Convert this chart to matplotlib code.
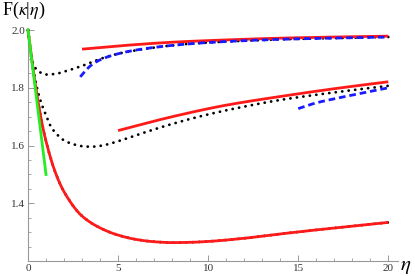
import matplotlib
matplotlib.use("Agg")
import matplotlib.pyplot as plt
import numpy as np

# exact curves (black dotted), one per kappa
eta_top = [0, 0.2, 0.5, 1.0, 1.5, 2, 3, 4, 5, 6, 8, 10, 12, 14, 16, 18, 20]
F_top = [2.0, 1.90, 1.862, 1.846, 1.848, 1.856, 1.876, 1.900, 1.918, 1.930, 1.947, 1.957, 1.963, 1.968, 1.971, 1.974, 1.976]

eta_mid = [0, 0.25, 0.5, 0.75, 1.0, 1.25, 1.5, 2, 2.5, 3, 3.5, 4, 5, 6, 8, 10, 12, 14, 16, 18, 20]
F_mid = [2.0, 1.88, 1.80, 1.745, 1.705, 1.668, 1.646, 1.618, 1.605, 1.598, 1.596, 1.599, 1.615, 1.636, 1.675, 1.708, 1.735, 1.758, 1.776, 1.792, 1.807]

eta_low = [0, 0.25, 0.5, 0.75, 1.0, 1.5, 2, 3, 4, 5, 6, 7, 8, 9, 10, 12, 14, 16, 18, 20]
F_low = [2.0, 1.88, 1.775, 1.685, 1.615, 1.51, 1.44, 1.356, 1.315, 1.29, 1.275, 1.267, 1.264, 1.265, 1.268, 1.279, 1.294, 1.308, 1.321, 1.334]

# large-eta approximations (red)
eta_red_top = [3, 5, 8, 11, 14, 17, 20]
F_red_top = [1.934, 1.945, 1.958, 1.966, 1.972, 1.976, 1.979]
eta_red_mid = [5, 8, 11, 14, 17, 20]
F_red_mid = [1.652, 1.700, 1.740, 1.770, 1.797, 1.821]

# other approximation (blue dashed)
eta_blue_top = [2.9, 3.2, 3.5, 4, 5, 6, 8, 10, 14, 20]
F_blue_top = [1.838, 1.860, 1.878, 1.897, 1.918, 1.931, 1.947, 1.957, 1.968, 1.976]
eta_blue_mid = [15, 16, 17, 18, 19, 20]
F_blue_mid = [1.728, 1.748, 1.762, 1.775, 1.788, 1.800]

# small-eta line (green)
eta_green = [0, 1]
F_green = [2.0, 1.5]

plt.rcParams['font.family'] = ['Liberation Serif', 'DejaVu Serif']
plt.rcParams['mathtext.fontset'] = 'stix'


def pchip(x, y, n=400):
    # monotone cubic (Fritsch-Carlson) through the read-off points
    x = np.asarray(x, float)
    y = np.asarray(y, float)
    h = np.diff(x)
    d = np.diff(y) / h
    m = np.zeros_like(y)
    m[0], m[-1] = d[0], d[-1]
    for k in range(1, len(x) - 1):
        if d[k - 1] * d[k] > 0:
            w1 = 2 * h[k] + h[k - 1]
            w2 = h[k] + 2 * h[k - 1]
            m[k] = (w1 + w2) / (w1 / d[k - 1] + w2 / d[k])
    xs = np.linspace(x[0], x[-1], n)
    i = np.clip(np.searchsorted(x, xs) - 1, 0, len(x) - 2)
    t = (xs - x[i]) / h[i]
    h00 = 2 * t**3 - 3 * t**2 + 1
    h10 = t**3 - 2 * t**2 + t
    h01 = -2 * t**3 + 3 * t**2
    h11 = t**3 - t**2
    ys = h00 * y[i] + h10 * h[i] * m[i] + h01 * y[i + 1] + h11 * h[i] * m[i + 1]
    return xs, ys


fig = plt.figure(figsize=(4.15, 2.76), dpi=100)
ax = fig.add_axes([0.0675, 0.054, 0.892, 0.837])

dot = dict(color='black', lw=2.0, ls=(0, (0.05, 2.3)), dash_capstyle='round', zorder=2)
for x, y in [(eta_top, F_top), (eta_mid, F_mid), (eta_low, F_low)]:
    ax.plot(*pchip(x, y), **dot)

red = dict(color='#ff1a1a', lw=2.0, solid_capstyle='butt', zorder=3)
ax.plot(*pchip(eta_low, F_low), **red)
ax.plot(*pchip(eta_red_top, F_red_top), **red)
ax.plot(*pchip(eta_red_mid, F_red_mid), **red)

blue = dict(color='#1a1aff', lw=2.0, ls=(0, (2.4, 1.4)), zorder=4)
ax.plot(*pchip(eta_blue_top, F_blue_top), **blue)
ax.plot(*pchip(eta_blue_mid, F_blue_mid), **blue)

ax.plot(eta_green, F_green, color='#22ee22', lw=2.0, zorder=5)

ax.set_xlim(0, 20.55)
ax.set_ylim(1.2, 2.0)
for s in ['top', 'right']:
    ax.spines[s].set_visible(False)
for s in ['left', 'bottom']:
    ax.spines[s].set_color('#999999')
    ax.spines[s].set_linewidth(0.8)

ax.set_xticks([0, 5, 10, 15, 20])
ax.set_xticks(np.arange(1, 21), minor=True)
ax.set_yticks([1.4, 1.6, 1.8, 2.0])
ax.set_yticklabels(['1.4', '1.6', '1.8', '2.0'])
ax.set_yticks(np.arange(1.25, 2.0, 0.05), minor=True)
ax.tick_params(which='major', direction='in', length=4, width=0.7, color='#999999',
               labelsize=8, labelcolor='#333333', pad=2)
ax.tick_params(which='minor', direction='in', length=2, width=0.6, color='#999999')

fig.text(0.005, 0.925, r'F($\kappa$|$\eta$)', fontsize=13, ha='left', va='bottom')
fig.text(0.963, 0.035, r'$\eta$', fontsize=15, ha='left', va='center')

for l in ax.lines:
    l.set_clip_on(False)

fig.savefig('out.png', dpi=100)
